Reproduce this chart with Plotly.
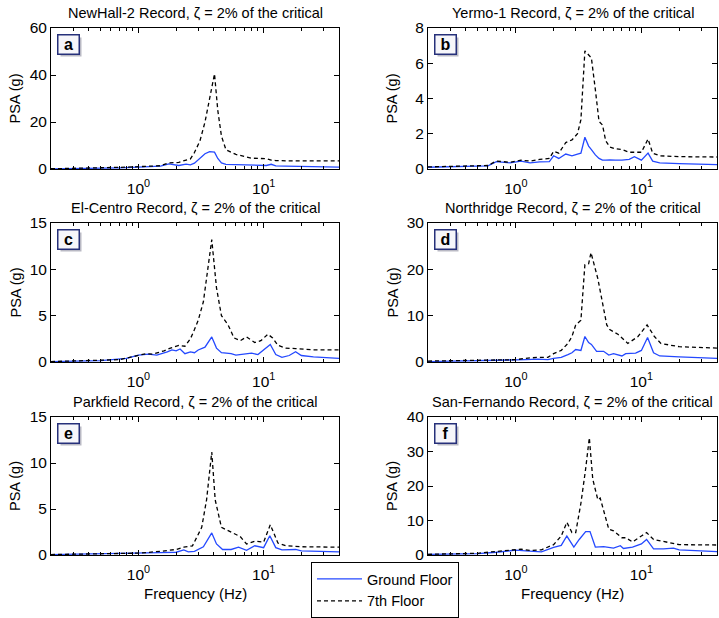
import math
import plotly.graph_objects as go

# ---------------- data ----------------
panel_titles = [
    "NewHall-2 Record, ζ = 2% of the critical",
    "Yermo-1 Record, ζ = 2% of the critical",
    "El-Centro Record, ζ = 2% of the critical",
    "Northridge Record, ζ = 2% of the critical",
    "Parkfield Record, ζ = 2% of the critical",
    "San-Fernando Record, ζ = 2% of the critical",
]
panel_letters = ["a", "b", "c", "d", "e", "f"]
y_max = [60, 8, 15, 30, 15, 40]
y_step = [20, 2, 5, 10, 5, 10]
series_names = ["Ground Floor", "7th Floor"]
x_title = "Frequency (Hz)"
y_title = "PSA (g)"

# Panel a - NewHall-2
fa_s = [0.2, 0.3, 0.5, 0.7, 1.0, 1.3, 1.5, 1.75, 1.9, 2.1, 2.4, 2.6, 2.8, 3.1, 3.4, 3.7, 4.05, 4.3, 4.6, 5.0, 6.0, 8.0, 10.5, 11.5, 12.5, 15, 20, 30, 40]
sa = [0.1, 0.2, 0.4, 0.7, 1.0, 1.2, 1.4, 2.6, 2.8, 2.8, 3.8, 4.3, 7.0, 12, 20, 30, 40.5, 25, 14, 8.2, 6.2, 4.6, 4.4, 3.8, 3.6, 3.5, 3.5, 3.5, 3.5]
fa_g = [0.2, 0.3, 0.5, 0.7, 1.0, 1.3, 1.5, 1.75, 1.9, 2.1, 2.4, 2.6, 2.8, 3.1, 3.4, 3.7, 4.05, 4.3, 4.6, 5.0, 6.0, 8.0, 10.5, 11.5, 12.5, 15, 20, 30, 40]
ga = [0.05, 0.15, 0.3, 0.5, 0.8, 1.0, 1.2, 2.2, 1.9, 1.5, 2.1, 1.8, 2.5, 4.5, 6.5, 7.4, 7.2, 4.5, 2.6, 2.0, 1.8, 1.5, 1.5, 2.0, 1.3, 1.2, 1.0, 0.9, 0.8]

# Panel b - Yermo-1
fb = [0.2, 0.4, 0.6, 0.7, 0.8, 0.9, 1.1, 1.3, 1.55, 1.85, 2.0, 2.2, 2.5, 2.8, 3.1, 3.3, 3.55, 3.8, 4.0, 4.3, 4.6, 4.9, 5.2, 5.6, 6.2, 7.0, 8.0, 8.8, 10.0, 11.3, 12.3, 14, 20, 40]
sb = [0.12, 0.15, 0.2, 0.45, 0.42, 0.38, 0.5, 0.45, 0.55, 0.6, 1.0, 0.9, 1.5, 1.65, 2.0, 2.8, 6.7, 6.5, 6.3, 4.5, 2.7, 2.5, 1.6, 1.25, 1.15, 1.1, 0.95, 0.95, 0.95, 1.7, 0.9, 0.75, 0.7, 0.68]
gb = [0.1, 0.13, 0.18, 0.42, 0.4, 0.35, 0.45, 0.35, 0.4, 0.42, 0.75, 0.6, 0.85, 0.75, 0.85, 0.9, 1.8, 1.3, 1.1, 0.8, 0.6, 0.5, 0.5, 0.52, 0.5, 0.5, 0.55, 0.7, 0.5, 0.9, 0.45, 0.35, 0.3, 0.25]

# Panel c - El-Centro
fc_s = [0.2, 0.5, 0.7, 0.85, 1.0, 1.15, 1.3, 1.6, 1.8, 2.1, 2.35, 2.6, 2.8, 3.0, 3.3, 3.5, 3.85, 4.2, 4.6, 5.2, 5.8, 6.5, 7.3, 8.5, 9.5, 10.8, 11.8, 13, 15, 18, 25, 40]
sc = [0.05, 0.2, 0.25, 0.5, 0.75, 0.9, 0.85, 1.2, 1.5, 1.8, 1.7, 2.5, 3.5, 4.5, 6.5, 9.0, 13.2, 8.0, 5.0, 4.0, 2.6, 2.3, 2.7, 2.1, 2.3, 3.0, 2.6, 1.8, 1.5, 1.45, 1.3, 1.3]
fc_g = [0.2, 0.5, 0.8, 1.0, 1.2, 1.4, 1.7, 1.85, 2.0, 2.15, 2.35, 2.6, 2.8, 3.0, 3.4, 3.85, 4.2, 4.6, 5.5, 6.0, 8.0, 9.0, 11.3, 12.5, 14, 16, 18, 20, 25, 40]
gc = [0.05, 0.15, 0.4, 0.75, 0.85, 0.75, 1.1, 1.3, 1.2, 1.4, 0.9, 1.1, 1.0, 1.3, 1.6, 2.7, 1.5, 1.0, 0.9, 0.75, 0.95, 0.8, 1.9, 0.8, 0.5, 0.7, 1.1, 0.7, 0.55, 0.4]

# Panel d - Northridge
fd_s = [0.2, 0.5, 1.0, 1.2, 1.5, 1.8, 2.0, 2.3, 2.6, 2.8, 3.0, 3.3, 3.55, 3.8, 3.97, 4.5, 5.0, 5.3, 5.6, 6.5, 7.8, 9.4, 11.1, 12.7, 14.3, 20, 40]
sd = [0.2, 0.3, 0.5, 0.8, 1.0, 1.0, 1.8, 2.5, 4.0, 5.5, 8.0, 9.0, 21, 21.2, 23.6, 18, 12, 8.0, 7.0, 6.0, 4.0, 5.5, 8.0, 5.5, 4.0, 3.3, 3.0]
fd_g = [0.2, 0.5, 1.0, 1.2, 1.5, 1.8, 2.0, 2.3, 2.6, 2.8, 3.0, 3.3, 3.55, 3.8, 4.0, 4.4, 5.0, 5.5, 6.0, 6.5, 7.0, 7.5, 9.0, 10.0, 11.2, 12.5, 14, 20, 40]
gd = [0.1, 0.25, 0.4, 0.5, 0.6, 0.5, 0.8, 1.0, 1.6, 2.0, 2.7, 2.5, 5.5, 4.2, 3.8, 2.3, 2.3, 1.5, 1.8, 1.6, 1.3, 1.8, 1.9, 2.5, 5.3, 2.0, 1.3, 1.1, 0.8]

# Panel e - Parkfield
fe_s = [0.2, 0.8, 1.0, 1.5, 2.0, 2.3, 2.7, 3.2, 3.5, 3.85, 4.1, 4.6, 5.5, 6.5, 7.3, 8.5, 10, 11.3, 13, 15, 20, 40]
se = [0.05, 0.15, 0.2, 0.4, 0.6, 0.85, 1.0, 3.0, 6.0, 11.2, 6.0, 3.0, 2.5, 2.0, 1.2, 1.5, 1.4, 3.3, 1.3, 1.0, 0.9, 0.85]
fe_g = [0.2, 1.0, 1.5, 2.0, 2.3, 2.5, 2.8, 3.3, 3.85, 4.2, 4.7, 5.5, 6.3, 7.3, 8.5, 10, 11.2, 12.5, 14, 18, 20, 40]
ge = [0.05, 0.15, 0.25, 0.3, 0.55, 0.35, 0.4, 0.9, 2.4, 1.2, 0.6, 0.6, 0.85, 0.5, 1.0, 0.8, 2.1, 0.8, 0.55, 0.6, 0.45, 0.35]

# Panel f - San-Fernando
ff_s = [0.2, 0.5, 0.6, 0.8, 1.0, 1.1, 1.3, 1.6, 2.0, 2.3, 2.55, 2.8, 3.0, 3.3, 3.6, 3.85, 4.1, 4.5, 4.7, 5.5, 6.0, 7.0, 7.5, 8.5, 10, 11, 12.5, 15, 18, 20, 40]
sf = [0.2, 0.5, 0.8, 1.2, 1.6, 1.7, 1.3, 1.5, 3.0, 5.5, 9.5, 6.5, 6.5, 15, 25, 34, 22, 16, 16.5, 7.5, 7.0, 5.0, 5.0, 3.8, 5.5, 6.5, 4.5, 4.0, 3.5, 3.0, 2.9]
ff_g = [0.2, 0.5, 0.7, 1.0, 1.2, 1.6, 2.0, 2.3, 2.55, 2.9, 3.2, 3.6, 3.9, 4.3, 5, 6, 6.8, 7.2, 8.5, 10, 11, 12.5, 15, 18, 20, 40]
gf = [0.2, 0.4, 0.8, 1.4, 1.2, 0.9, 2.2, 2.8, 5.5, 2.3, 4.5, 6.8, 6.8, 2.3, 2.4, 2.0, 2.7, 1.9, 2.3, 3.2, 4.5, 1.8, 1.8, 2.0, 1.5, 1.0]

x_major_vals = [1, 10]
x_major_text = ["10<sup>0</sup>", "10<sup>1</sup>"]
x_minor_vals = [0.2, 0.3, 0.4, 0.5, 0.6, 0.7, 0.8, 0.9, 2, 3, 4, 5, 6, 7, 8, 9, 20, 30, 40]
x_range = [0.2, 40]

ground = [(fa_g, ga), (fb, gb), (fc_g, gc), (fd_g, gd), (fe_g, ge), (ff_g, gf)]
seventh = [(fa_s, sa), (fb, sb), (fc_s, sc), (fd_s, sd), (fe_s, se), (ff_s, sf)]

# ---------------- layout geometry (pixels) ----------------
W, H = 719, 618
col_px = [(51, 339), (428, 717)]
row_px = [(28, 169), (223, 362), (417, 555)]
ylab_x = [15, 392]

FONT = "Liberation Sans, Arial, sans-serif"
BLUE = "#2449ff"

fig = go.Figure()
layout = dict(
    width=W, height=H, template="none",
    margin=dict(l=0, r=0, t=0, b=0),
    paper_bgcolor="white", plot_bgcolor="white",
    font=dict(family=FONT, size=15, color="black"),
    showlegend=True,
    legend=dict(x=311 / W, y=0, xanchor="left", yanchor="bottom",
                bordercolor="black", borderwidth=1, bgcolor="white",
                font=dict(family=FONT, size=14.5, color="black"),
                tracegroupgap=0, itemwidth=45),
)
annotations = []

for i in range(6):
    r, c = divmod(i, 2)
    x0, x1 = col_px[c]
    yt, yb = row_px[r]
    k = "" if i == 0 else str(i + 1)
    xa, ya = "x" + k, "y" + k
    dom_x = [x0 / W, x1 / W]
    dom_y = [1 - yb / H, 1 - yt / H]
    layout["xaxis" + k] = dict(
        domain=dom_x, anchor=ya, type="log",
        range=[math.log10(x_range[0]), math.log10(x_range[1])],
        tickvals=x_major_vals, ticktext=x_major_text,
        ticks="inside", ticklen=5, tickcolor="black", tickwidth=1,
        minor=dict(tickvals=x_minor_vals, ticks="inside", ticklen=3, tickcolor="black", showgrid=False),
        showline=True, linecolor="black", linewidth=1, mirror="allticks",
        showgrid=False, zeroline=False, automargin=False, ticklabelstandoff=5,
        tickfont=dict(family=FONT, size=15.5, color="black"),
    )
    layout["yaxis" + k] = dict(
        domain=dom_y, anchor=xa, range=[0, y_max[i]],
        tickmode="linear", tick0=0, dtick=y_step[i],
        ticks="inside", ticklen=5, tickcolor="black", tickwidth=1,
        showline=True, linecolor="black", linewidth=1, mirror="allticks",
        showgrid=False, zeroline=False, automargin=False,
        tickfont=dict(family=FONT, size=15.5, color="black"),
    )
    fg, vg = ground[i]
    fs, vs = seventh[i]
    fig.add_trace(go.Scatter(x=fg, y=vg, xaxis=xa, yaxis=ya, mode="lines",
                             name=series_names[0], legendgroup="g", showlegend=(i == 0),
                             line=dict(color=BLUE, width=1.3)))
    fig.add_trace(go.Scatter(x=fs, y=vs, xaxis=xa, yaxis=ya, mode="lines",
                             name=series_names[1], legendgroup="s", showlegend=(i == 0),
                             line=dict(color="black", width=1.3, dash="4px,3px")))
    # title
    annotations.append(dict(
        text=panel_titles[i], xref="paper", yref="paper",
        x=(dom_x[0] + dom_x[1]) / 2, y=dom_y[1], xanchor="center", yanchor="bottom",
        yshift=5, showarrow=False, font=dict(family=FONT, size=14.5, color="black")))
    # y axis title
    annotations.append(dict(
        text=y_title, xref="paper", yref="paper", textangle=-90,
        x=ylab_x[c] / W, y=(dom_y[0] + dom_y[1]) / 2, xanchor="center", yanchor="middle",
        showarrow=False, font=dict(family=FONT, size=14.5, color="black")))
    # x axis title (bottom row)
    if r == 2:
        annotations.append(dict(
            text=x_title, xref="paper", yref="paper",
            x=(dom_x[0] + dom_x[1]) / 2, y=1 - 593 / H, xanchor="center", yanchor="middle",
            showarrow=False, font=dict(family=FONT, size=15, color="black")))
    # letter box shadow + box
    bx, by = (x0 + 6) / W, 1 - (yt + 6) / H
    annotations.append(dict(
        text=" ", xref="paper", yref="paper", x=bx, y=by, xanchor="left", yanchor="top",
        xshift=3, yshift=-3, showarrow=False, width=16, height=14, borderpad=2,
        bgcolor="#b9b9c4", font=dict(family=FONT, size=15)))
    annotations.append(dict(
        text="<b>" + panel_letters[i] + "</b>", xref="paper", yref="paper",
        x=bx, y=by, xanchor="left", yanchor="top", showarrow=False,
        width=16, height=14, borderpad=2, borderwidth=1.5, bordercolor="#26307a",
        bgcolor="#f6f6fa", font=dict(family=FONT, size=16, color="black")))

layout["annotations"] = annotations
fig.update_layout(**layout)
fig.write_html("out.html")
